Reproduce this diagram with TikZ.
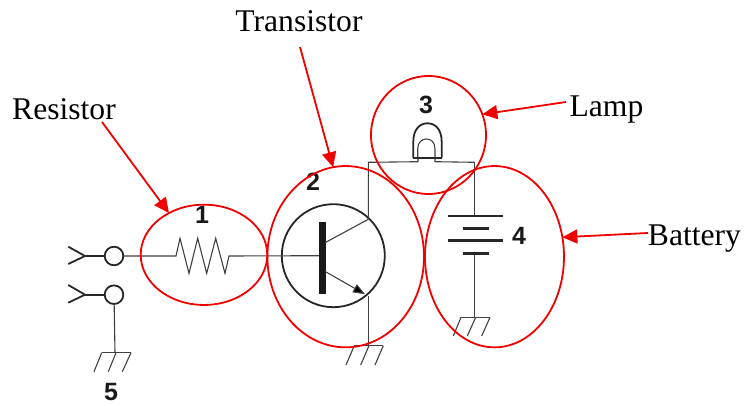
\documentclass[tikz,border=0pt]{standalone}
\usepackage{fontspec}
\setmainfont{Liberation Serif}
\newfontfamily\digitfont{Liberation Sans}
\usetikzlibrary{shapes.geometric,arrows.meta}
\definecolor{wirecol}{gray}{0.25}
\definecolor{markred}{RGB}{240,0,0}
\tikzset{
  wire/.style={draw=wirecol,line width=1.1pt},
  heavy/.style={draw=black!85,line width=1.8pt},
  plate/.style={draw=black!85,line width=2.8pt},
  mark ellipse/.style={ellipse,draw=markred,line width=1.8pt,inner sep=0pt,outer sep=0pt},
  callout/.style={draw=markred,line width=1.8pt,-{Triangle[length=15pt,width=14pt,fill=markred]}},
  caption/.style={font=\fontsize{31.6}{32}\selectfont,inner sep=0pt,text=black},
  digit/.style={font=\digitfont\bfseries\fontsize{25}{25}\selectfont,inner sep=0pt,text=black!90},
  terminal/.style={circle,draw=black!85,line width=1.8pt,minimum size=18.6pt,inner sep=0pt,outer sep=0pt}
}
\begin{document}
\begin{tikzpicture}[x=1pt,y=-1pt]
\useasboundingbox (0,0) rectangle (748,406);
% terminals
\node[terminal] (t1) at (114,256) {};
\node[terminal] (t2) at (114,294.7) {};
\coordinate (c1) at (85,256);
\coordinate (c2) at (85,294.7);
\draw[heavy] (68.3,246.7) -- (c1) -- (68.3,264);
\draw[heavy] (68.3,285) -- (c2) -- (68.3,302.7);
\draw[heavy] (c1) -- (t1);
\draw[heavy] (c2) -- (t2);
% resistor and base lead
\node[circle,draw=black!85,line width=1.8pt,minimum size=103pt,inner sep=0pt,outer sep=0pt] (q) at (333.3,255.7) {};
\coordinate (rl) at (176,256);
\coordinate (rr) at (229,256);
\coordinate (base) at (322,255.7);
\draw[wire] (t1) -- (rl) -- (180,238.3) -- (189,273.3) -- (197.7,238.3) -- (206.7,273.3) -- (215.7,238.3) -- (225,273.3) -- (rr) -- (base);
% ground 5
\coordinate (g5) at (115,352.7);
\draw[wire] (t2) -- (g5);
\draw[wire] (101.7,352.7) -- (131,352.7);
\draw[wire] (101.7,352.7) -- (94,371.7) (116,352.7) -- (108.3,371.7) (131,352.7) -- (122.3,371.7);
% transistor
\draw[draw=black!90,line width=6.7pt] (322.3,221.7) -- (322.3,294);
\coordinate (col) at (368.3,219.3);
\coordinate (emi) at (368.3,296);
\draw[wire] (325,242.7) -- (col);
\draw[wire,-{Triangle[length=12pt,width=9pt,fill=black]}] (325,271.4) -- (365,294.2);
% collector wire and lamp
\coordinate (tl) at (368.3,162.3);
\coordinate (tr) at (474.5,162.3);
\draw[wire] (col) -- (tl) -- (418,161.7) -- (418,157.7);
\draw[wire] (435,157.7) -- (435,161.7) -- (tr);
\draw[heavy] (413.3,157.7) -- (441.7,157.7);
\draw[heavy] (413.3,157.7) -- (413.3,142) .. controls (413.3,129) and (420,123.3) .. (427.5,123.3) .. controls (435,123.3) and (441.7,129) .. (441.7,142) -- (441.7,157.7);
\draw[wire] (417.7,157.7) -- (417.7,149) .. controls (417.7,142) and (422,139) .. (426.5,139) .. controls (431,139) and (435,142) .. (435,149) -- (435,157.7);
% emitter to ground
\coordinate (g2) at (368.3,345.7);
\draw[wire] (emi) -- (g2);
\draw[wire] (354.3,345.7) -- (383.3,345.7);
\draw[wire] (354.3,345.7) -- (346,365) (369,345.7) -- (360.7,365) (383.3,345.7) -- (375,365);
% battery
\coordinate (bt) at (474.5,216);
\coordinate (bb) at (474.5,253.3);
\coordinate (g4) at (474.5,317.3);
\draw[wire] (tr) -- (bt);
\draw[wire] (bb) -- (g4);
\draw[plate] (448.3,216) -- (502.7,216);
\draw[plate] (462.7,228.3) -- (489,228.3);
\draw[plate] (448.3,240.7) -- (502.7,240.7);
\draw[plate] (462.7,253.3) -- (489,253.3);
\draw[wire] (461,317.3) -- (490,317.3);
\draw[wire] (461,317.3) -- (453.3,336) (475.7,317.3) -- (467.3,336) (490,317.3) -- (481.7,336);
% digits
\node[digit] (d1) at (202,215) {1};
\node[digit] (d2) at (313,182) {2};
\node[digit] (d3) at (426,105) {3};
\node[digit] (d4) at (519,236) {4};
\node[digit] (d5) at (111,392.5) {5};
% red ellipses
\node[mark ellipse,minimum width=126.6pt,minimum height=100.3pt] (e1) at (204,254.8) {};
\node[mark ellipse,minimum width=156.6pt,minimum height=181.3pt] (e2) at (345.7,256.7) {};
\node[mark ellipse,minimum width=115pt,minimum height=118pt] (e3) at (428.5,135) {};
\node[mark ellipse,minimum width=139pt,minimum height=181.3pt] (e4) at (494.5,256.7) {};
% captions
\node[caption] (lr) at (64,109) {Resistor};
\node[caption] (lt) at (299,21) {Transistor};
\node[caption] (ll) at (606.5,109.5) {Lamp};
\node[caption] (lb) at (694.5,238.5) {Battery};
% callouts
\coordinate (sr) at (102,122);
\coordinate (st) at (300,47);
\coordinate (sl) at (566,102);
\coordinate (sb) at (648,233);
\draw[callout] (sr) -- (e1.130);
\draw[callout] (st) -- (e2.98);
\draw[callout] (sl) -- (e3.21);
\draw[callout] (sb) -- (e4.16);
\end{tikzpicture}
\end{document}
